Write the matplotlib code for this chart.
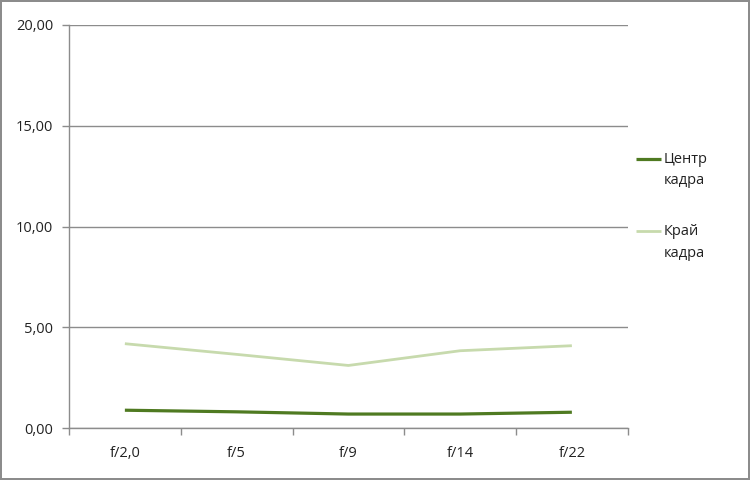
import numpy as np
import matplotlib.pyplot as plt
from matplotlib.legend_handler import HandlerLine2D

plt.rcParams['font.family'] = ['Open Sans', 'DejaVu Sans']

apertures = ['f/2,0', 'f/5', 'f/9', 'f/14', 'f/22']
center = [0.89, 0.81, 0.70, 0.70, 0.79]
edge = [4.19, 3.66, 3.11, 3.84, 4.09]
yticks = [0, 5, 10, 15, 20]
ylabels = ['0,00', '5,00', '10,00', '15,00', '20,00']

grey = '#8c8c8c'
fs = 10.5
lsp = 1.6


class TopLineHandler(HandlerLine2D):
    # put the legend line next to the first line of a two-line label
    def create_artists(self, legend, orig_handle, xdescent, ydescent,
                       width, height, fontsize, trans):
        arts = super().create_artists(legend, orig_handle, xdescent, ydescent,
                                      width, height, fontsize, trans)
        for a in arts:
            a.set_ydata(np.asarray(a.get_ydata()) + fontsize * lsp / 2)
        return arts


fig = plt.figure(figsize=(7.5, 4.8), dpi=100, edgecolor=grey, linewidth=1.5)
ax = fig.add_axes([0.092, 0.108, 0.745, 0.84])

x = np.arange(len(apertures))
l1, = ax.plot(x, center, color='#4F7A21', linewidth=2.3, label='Центр\nкадра', solid_capstyle='butt')
l2, = ax.plot(x, edge, color='#C7DAAD', linewidth=2.0, label='Край\nкадра', solid_capstyle='butt')

ax.set_xlim(-0.5, len(apertures) - 0.5)
ax.set_ylim(0, 20)
ax.set_yticks(yticks)
ax.set_yticklabels(ylabels)
ax.set_xticks(x)
ax.set_xticklabels(apertures)
ax.set_xticks(np.arange(len(apertures) + 1) - 0.5, minor=True)
ax.tick_params(axis='x', which='major', length=0, pad=12.5, labelsize=fs, colors='#222222')
ax.tick_params(axis='x', which='minor', length=5, color=grey, width=1)
ax.tick_params(axis='y', length=5, color=grey, width=1, pad=6.5, labelsize=fs, labelcolor='#222222')

ax.yaxis.grid(True, color=grey, linewidth=1)
ax.set_axisbelow(True)
for s in ['top', 'right']:
    ax.spines[s].set_visible(False)
for s in ['left', 'bottom']:
    ax.spines[s].set_color(grey)
    ax.spines[s].set_linewidth(1)

leg = ax.legend(handles=[l1, l2], loc='upper left', bbox_to_anchor=(1.005, 0.70), frameon=False,
                fontsize=fs, handlelength=1.7, handletextpad=0.2,
                labelspacing=2.45, borderaxespad=0,
                handler_map={l1: TopLineHandler(), l2: TopLineHandler()})
for t in leg.get_texts():
    t.set_linespacing(lsp)
    t.set_color('#222222')

fig.savefig('out.png', dpi=100)
